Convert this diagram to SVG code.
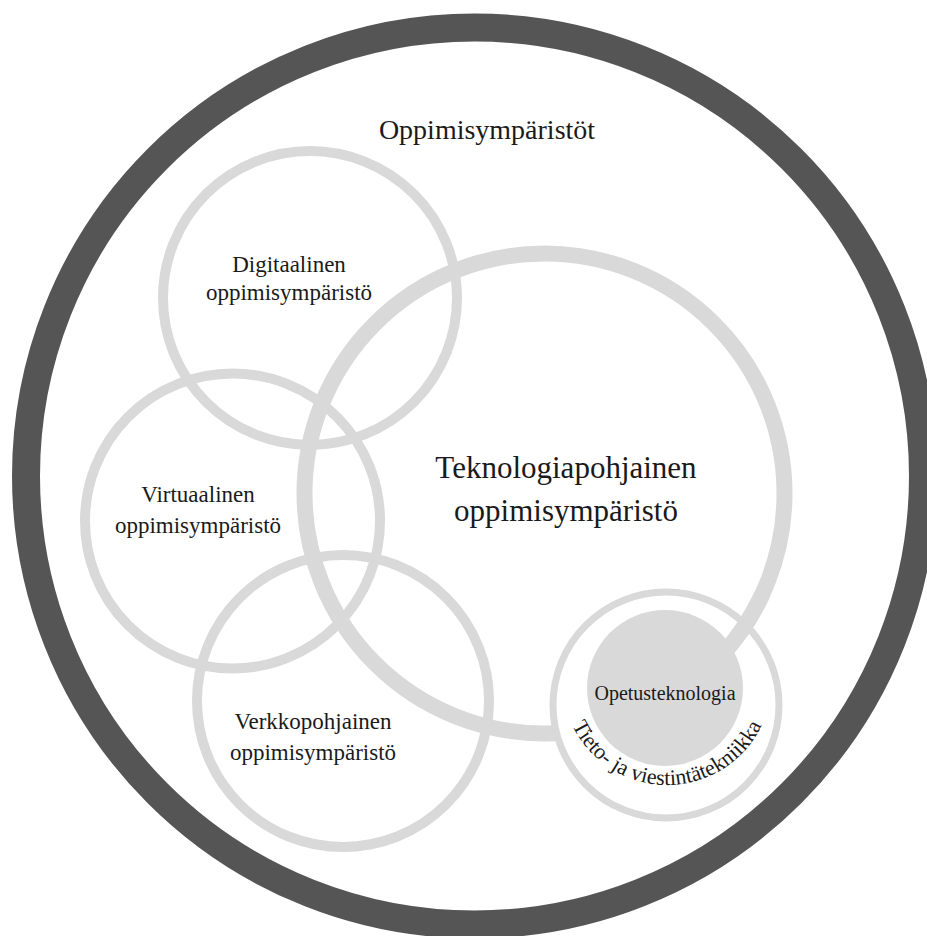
<svg xmlns="http://www.w3.org/2000/svg" width="927" height="936" viewBox="0 0 927 936">
  <style>
    .ring { fill: none; stroke: #d9d9d9; }
    .lbl { font-family: "Liberation Serif", "Times New Roman", serif; fill: #1a1a1a; text-anchor: middle; }
  </style>
  <defs>
    <!-- baseline for the curved label, lower half of the small circle -->
    <path id="ictArc" d="M 562 680 A 105 105 0 0 0 772 680"/>
  </defs>
  <rect width="927" height="936" fill="#ffffff"/>

  <!-- outer boundary -->
  <g id="oppimisymparistot">
    <circle cx="474.5" cy="476" r="448.5" fill="none" stroke="#555555" stroke-width="28"/>
    <text class="lbl" x="487" y="139" font-size="28">Oppimisympäristöt</text>
  </g>

  <g id="digitaalinen">
    <circle class="ring" cx="310" cy="298" r="147" stroke-width="10"/>
    <text class="lbl" x="289" y="272" font-size="23">Digitaalinen</text>
    <text class="lbl" x="289" y="300" font-size="23">oppimisympäristö</text>
  </g>

  <g id="virtuaalinen">
    <circle class="ring" cx="232.5" cy="521" r="147.5" stroke-width="10"/>
    <text class="lbl" x="198" y="502" font-size="23">Virtuaalinen</text>
    <text class="lbl" x="198" y="533" font-size="23">oppimisympäristö</text>
  </g>

  <g id="verkkopohjainen">
    <circle class="ring" cx="343" cy="701" r="146" stroke-width="10"/>
    <text class="lbl" x="313" y="729" font-size="23">Verkkopohjainen</text>
    <text class="lbl" x="313" y="760" font-size="23">oppimisympäristö</text>
  </g>

  <g id="teknologiapohjainen">
    <circle class="ring" cx="544.5" cy="493.5" r="240" stroke-width="16"/>
    <text class="lbl" x="566" y="478" font-size="31">Teknologiapohjainen</text>
    <text class="lbl" x="566" y="521" font-size="31">oppimisympäristö</text>
  </g>

  <g id="tieto-ja-viestintatekniikka">
    <circle cx="666" cy="705" r="113" fill="#ffffff" stroke="#d9d9d9" stroke-width="7"/>
    <!-- upper-right part of the large ring stays visible inside the small circle -->
    <path class="ring" stroke-width="16" d="M 762 595 A 240 240 0 0 1 722.9 654.1"/>
    <text class="lbl" font-size="22">
      <textPath href="#ictArc" startOffset="50%">Tieto- ja viestintätekniikka</textPath>
    </text>
  </g>

  <g id="opetusteknologia">
    <circle cx="665" cy="688" r="78" fill="#d9d9d9"/>
    <text class="lbl" x="665" y="700" font-size="20">Opetusteknologia</text>
  </g>
</svg>
